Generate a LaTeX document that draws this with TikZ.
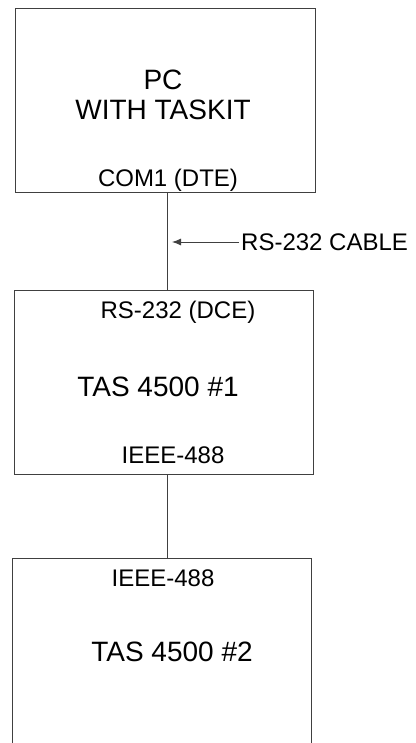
\documentclass[tikz,border=0pt]{standalone}
\usepackage{fontspec}
\setmainfont{Liberation Sans}
\usetikzlibrary{arrows.meta}
\tikzset{
  box/.style={draw=black!75, line width=0.9pt, inner sep=0pt},
  wire/.style={draw=black!75, line width=0.9pt},
  small/.style={inner sep=0pt, font=\fontsize{24}{28}\selectfont},
  big/.style={inner sep=0pt, font=\fontsize{28}{33}\selectfont, align=center},
}
\begin{document}
\begin{tikzpicture}[x=1pt,y=-1pt]
\useasboundingbox (0,0) rectangle (415,743);
% boxes
\node[box, minimum width=300pt, minimum height=184pt] (box1) at (165,100) {};
\node[box, minimum width=299pt, minimum height=184pt] (box2) at (163.5,382) {};
\coordinate (b3bl) at (12,743);
\coordinate (b3tl) at (12,558);
\coordinate (b3tr) at (311,558);
\coordinate (b3br) at (311,743);
\draw[wire] (b3bl) -- (b3tl) -- (b3tr) -- (b3br);
% texts
\node[big] (pc) at (163,95) {PC\\[-3pt]WITH TASKIT};
\node[small] (com1) at (168,180) {COM1 (DTE)};
\node[small] (rsdce) at (178,312) {RS-232 (DCE)};
\node[big] (tas1) at (158,387) {TAS 4500 \#1};
\node[small] (ieee1) at (173,455) {IEEE-488};
\node[small] (ieee2) at (163,578) {IEEE-488};
\node[big] (tas2) at (172,652) {TAS 4500 \#2};
\node[small, anchor=west] (cable) at (241,242) {RS-232 CABLE};
% connectors
\coordinate (bus) at (167,0);
\draw[wire] (box1.south -| bus) -- (box2.north -| bus);
\draw[wire] (box2.south -| bus) -- (b3tl -| bus);
\coordinate (tip) at (172,242);
\draw[wire, -{Latex[length=9pt,width=7pt]}] (cable.west) ++(-2,0) -- (tip);
\end{tikzpicture}
\end{document}
